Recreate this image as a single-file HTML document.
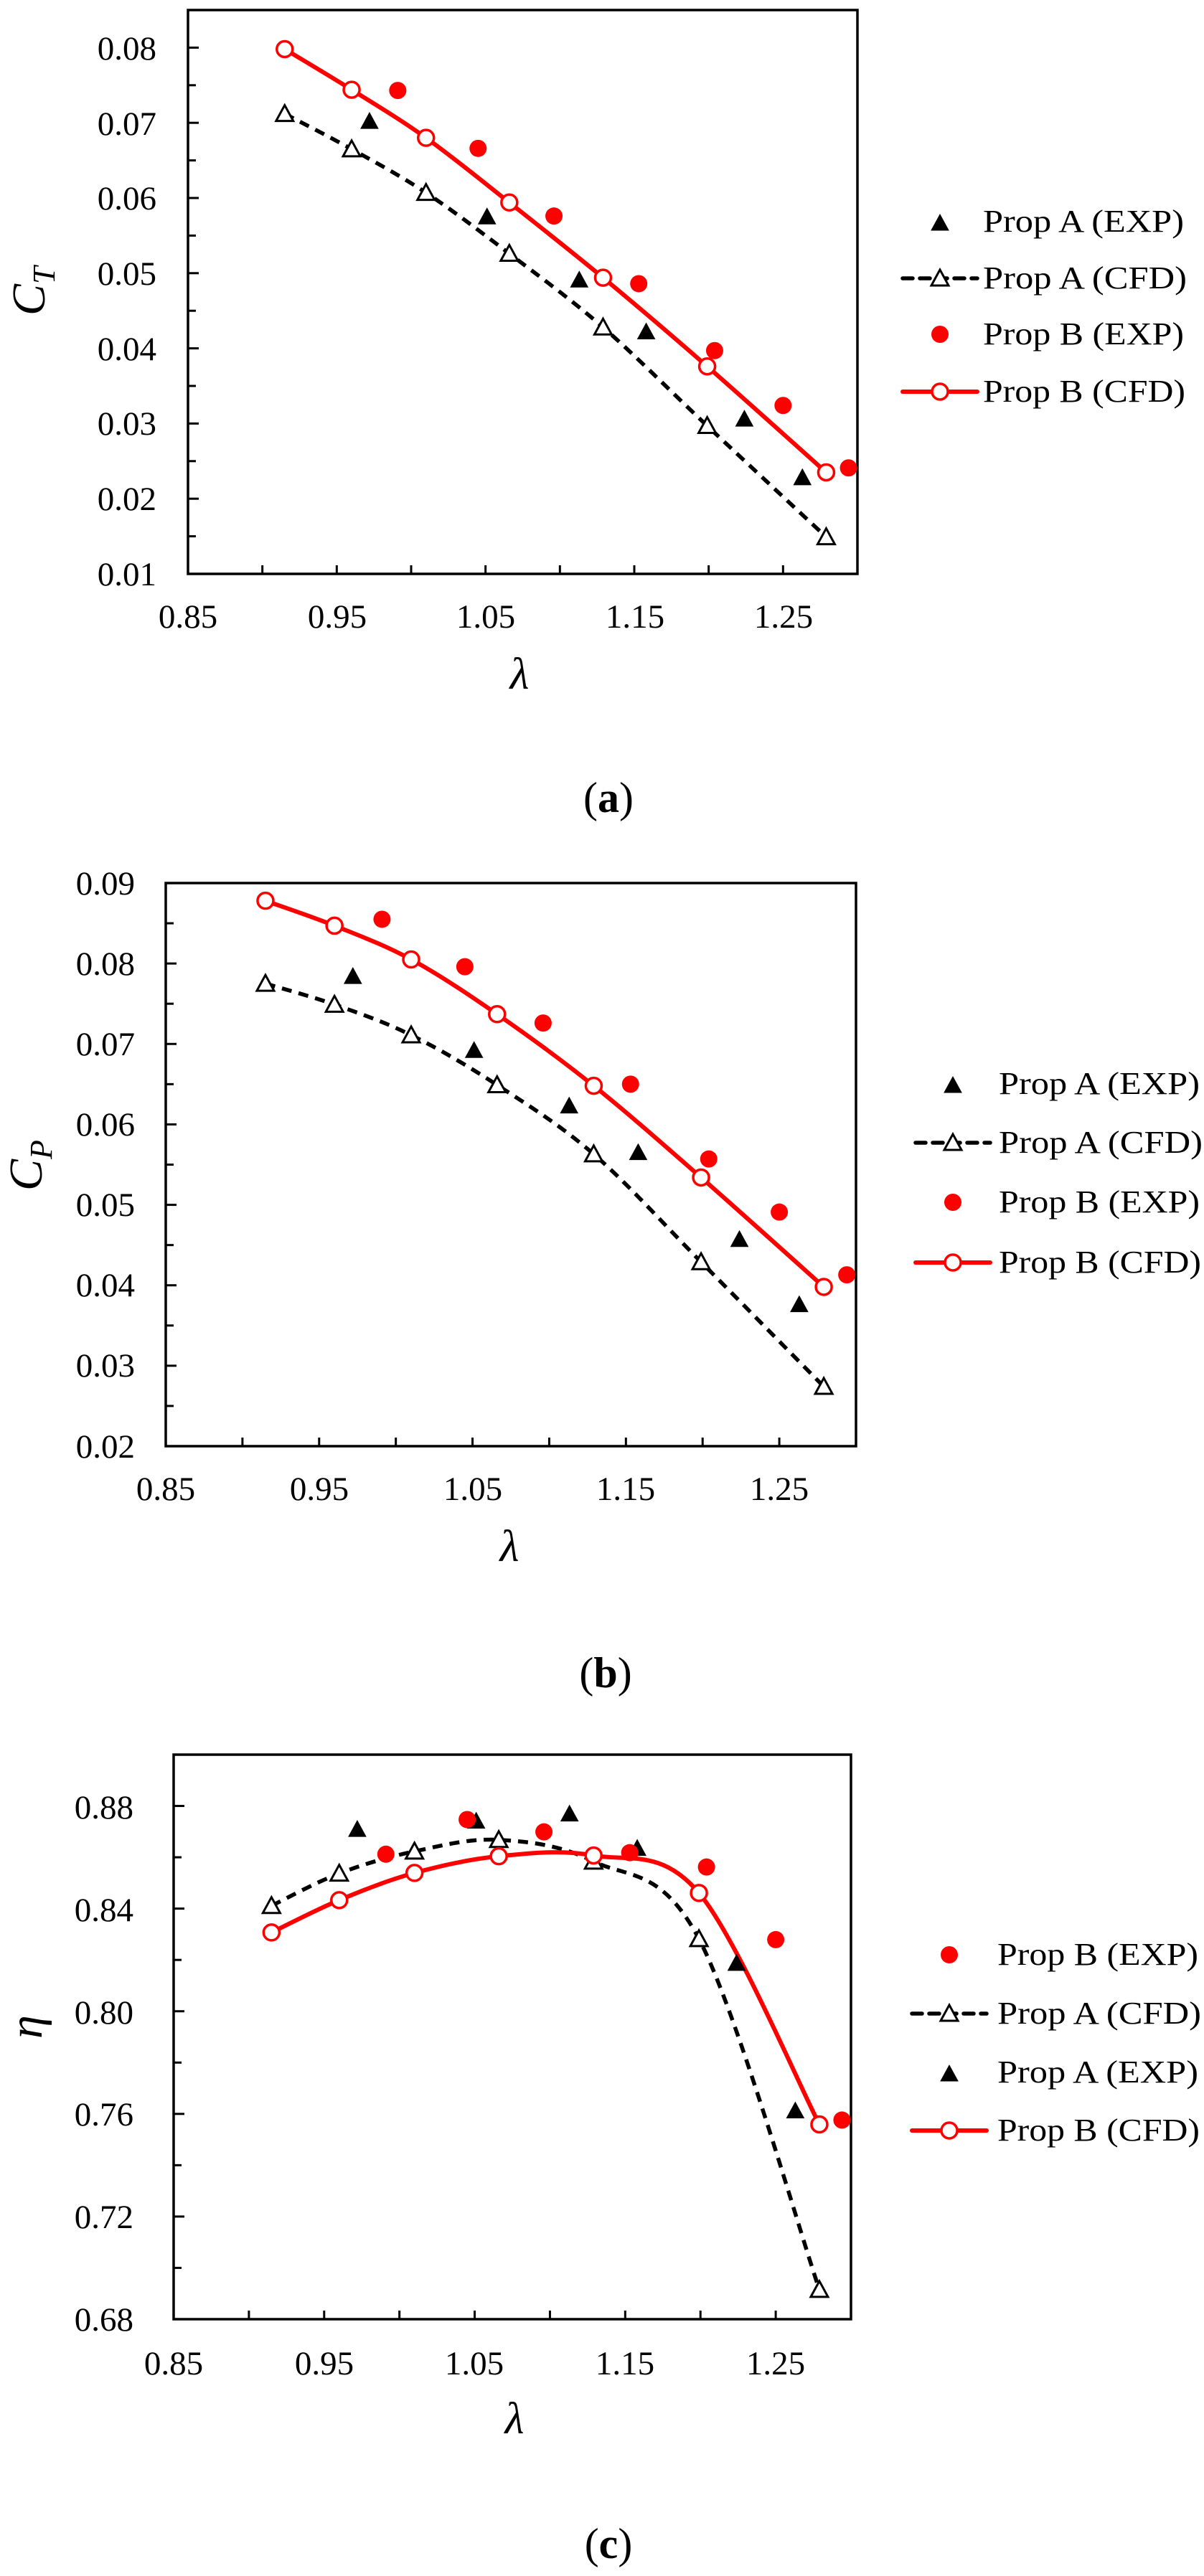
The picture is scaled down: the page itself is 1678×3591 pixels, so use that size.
<!DOCTYPE html>
<html><head><meta charset="utf-8"><style>
html,body{margin:0;padding:0;background:#fff;}
svg{display:block;}
svg text{font-family:"Liberation Serif","Times New Roman",Times,serif;fill:#000;}
</style></head><body>
<svg id="s" width="1678" height="3591" viewBox="0 0 1678 3591" xmlns="http://www.w3.org/2000/svg" font-family="Liberation Serif, Times New Roman, serif">
<rect width="1678" height="3591" fill="#fff"/>
<g id="plots"></g>

<!-- Plot (a) text -->
<g font-size="47" text-anchor="end">
<text x="218" y="83">0.08</text><text x="218" y="188">0.07</text><text x="218" y="292">0.06</text><text x="218" y="397">0.05</text><text x="218" y="502">0.04</text><text x="218" y="606">0.03</text><text x="218" y="711">0.02</text><text x="218" y="816">0.01</text>
</g>
<g font-size="47" text-anchor="middle">
<text x="262" y="875">0.85</text><text x="470" y="875">0.95</text><text x="677" y="875">1.05</text><text x="885" y="875">1.15</text><text x="1092" y="875">1.25</text>
</g>
<text x="724" y="960" font-size="62" font-style="italic" text-anchor="middle">λ</text>
<text transform="translate(62,440) rotate(-90)" font-size="66" font-style="italic">C<tspan font-size="44" dy="14">T</tspan></text>
<g font-size="44">
<text x="1370" y="323" textLength="280" lengthAdjust="spacingAndGlyphs">Prop A (EXP)</text>
<text x="1370" y="402" textLength="284" lengthAdjust="spacingAndGlyphs">Prop A (CFD)</text>
<text x="1370" y="480" textLength="280" lengthAdjust="spacingAndGlyphs">Prop B (EXP)</text>
<text x="1370" y="560" textLength="282" lengthAdjust="spacingAndGlyphs">Prop B (CFD)</text>
</g>
<text x="848" y="1132" font-size="60" text-anchor="middle">(<tspan font-weight="bold">a</tspan>)</text>

<!-- Plot (b) text -->
<g font-size="47" text-anchor="end">
<text x="188" y="1247">0.09</text><text x="188" y="1359">0.08</text><text x="188" y="1471">0.07</text><text x="188" y="1583">0.06</text><text x="188" y="1695">0.05</text><text x="188" y="1807">0.04</text><text x="188" y="1919">0.03</text><text x="188" y="2032">0.02</text>
</g>
<g font-size="47" text-anchor="middle">
<text x="231" y="2091">0.85</text><text x="445" y="2091">0.95</text><text x="659" y="2091">1.05</text><text x="872" y="2091">1.15</text><text x="1086" y="2091">1.25</text>
</g>
<text x="710" y="2176" font-size="62" font-style="italic" text-anchor="middle">λ</text>
<text transform="translate(58,1660) rotate(-90)" font-size="66" font-style="italic">C<tspan font-size="44" dy="14">P</tspan></text>
<g font-size="44">
<text x="1392" y="1525" textLength="280" lengthAdjust="spacingAndGlyphs">Prop A (EXP)</text>
<text x="1392" y="1607" textLength="284" lengthAdjust="spacingAndGlyphs">Prop A (CFD)</text>
<text x="1392" y="1690" textLength="280" lengthAdjust="spacingAndGlyphs">Prop B (EXP)</text>
<text x="1392" y="1774" textLength="282" lengthAdjust="spacingAndGlyphs">Prop B (CFD)</text>
</g>
<text x="844" y="2352" font-size="60" text-anchor="middle">(<tspan font-weight="bold">b</tspan>)</text>

<!-- Plot (c) text -->
<g font-size="47" text-anchor="end">
<text x="186" y="2535">0.88</text><text x="186" y="2678">0.84</text><text x="186" y="2821">0.80</text><text x="186" y="2963">0.76</text><text x="186" y="3106">0.72</text><text x="186" y="3249">0.68</text>
</g>
<g font-size="47" text-anchor="middle">
<text x="242" y="3310">0.85</text><text x="452" y="3310">0.95</text><text x="661" y="3310">1.05</text><text x="871" y="3310">1.15</text><text x="1081" y="3310">1.25</text>
</g>
<text x="717" y="3392" font-size="62" font-style="italic" text-anchor="middle">λ</text>
<text transform="translate(58,2842) rotate(-90)" font-size="66" font-style="italic">η</text>
<g font-size="44">
<text x="1390" y="2739" textLength="280" lengthAdjust="spacingAndGlyphs">Prop B (EXP)</text>
<text x="1390" y="2821" textLength="284" lengthAdjust="spacingAndGlyphs">Prop A (CFD)</text>
<text x="1390" y="2903" textLength="280" lengthAdjust="spacingAndGlyphs">Prop A (EXP)</text>
<text x="1390" y="2984" textLength="282" lengthAdjust="spacingAndGlyphs">Prop B (CFD)</text>
</g>
<text x="848" y="3566" font-size="60" text-anchor="middle">(<tspan font-weight="bold">c</tspan>)</text>
</svg>
<script>
(function(){
var NS="http://www.w3.org/2000/svg",G=document.getElementById("plots");
function el(n,a){var e=document.createElementNS(NS,n);for(var k in a)e.setAttribute(k,a[k]);G.appendChild(e);return e;}
function path(pts){
  var d="M"+pts[0][0]+","+pts[0][1];
  for(var i=0;i<pts.length-1;i++){
    var p0=pts[i-1]||pts[i],p1=pts[i],p2=pts[i+1],p3=pts[i+2]||pts[i+1];
    var c1=[p1[0]+(p2[0]-p0[0])/6,p1[1]+(p2[1]-p0[1])/6],c2=[p2[0]-(p3[0]-p1[0])/6,p2[1]-(p3[1]-p1[1])/6];
    d+=" C"+c1+" "+c2+" "+p2;
  }return d;}
function tri(x,y,fill){el("polygon",{points:(x-12)+","+(y+10)+" "+(x+12)+","+(y+10)+" "+x+","+(y-12),fill:fill?"#000":"#fff",stroke:"#000","stroke-width":fill?1:3,"stroke-linejoin":"miter"});}
function circ(x,y,fill){el("circle",{cx:x,cy:y,r:fill?12:11,fill:fill?"#f00":"#fff",stroke:"#f00","stroke-width":fill?0:3.5});}
var L=[0.915,0.960,1.010,1.066,1.129,1.199,1.279];
var LA=[0.972,1.051,1.113,1.158,1.224,1.263];
var LB=[0.991,1.045,1.096,1.153,1.204,1.250,1.294];
function plot(P){
  var X=function(l){return P.x0+(l-0.85)*(P.x1-P.x0)/0.45;},Y=function(v){return P.y1-(v-P.vmin)*(P.y1-P.y0)/(P.vmax-P.vmin);};
  for(var v=P.vmin;v<=P.vmax+1e-9;v+=P.minor){var y=Y(v),maj=Math.abs(Math.round((v-P.vmin)/P.major)*P.major-(v-P.vmin))<1e-9;el("line",{x1:P.x0,x2:P.x0+(maj?15:11),y1:y,y2:y,stroke:"#000","stroke-width":3});}
  for(var l=0.9;l<1.3;l+=0.05){var x=X(l);el("line",{x1:x,x2:x,y1:P.y1,y2:P.y1-12,stroke:"#000","stroke-width":3});}
  el("rect",{x:P.x0,y:P.y0,width:P.x1-P.x0,height:P.y1-P.y0,fill:"none",stroke:"#000","stroke-width":3.5});
  var ac=L.map(function(l,i){return [X(l),Y(P.aC[i])];}),bc=L.map(function(l,i){return [X(l),Y(P.bC[i])];});
  el("path",{d:path(ac),fill:"none",stroke:"#000","stroke-width":5.5,"stroke-dasharray":"14 10"});
  el("path",{d:path(bc),fill:"none",stroke:"#f00","stroke-width":6});
  ac.forEach(function(p){tri(p[0],p[1],false);});
  LA.forEach(function(l,i){tri(X(l),Y(P.aE[i]),true);});
  LB.forEach(function(l,i){circ(X(l),Y(P.bE[i]),true);});
  bc.forEach(function(p){circ(p[0],p[1],false);});
  var lx=P.lx;
  P.order.forEach(function(k,i){var y=P.ly[i];
    if(k=="aE")tri(lx,y+2,true);
    if(k=="bE")circ(lx,y,true);
    if(k=="aC"){el("line",{x1:lx-52,x2:lx+52,y1:y,y2:y,stroke:"#000","stroke-width":5.5,"stroke-dasharray":"14 10","stroke-linecap":"round"});tri(lx,y,false);}
    if(k=="bC"){el("line",{x1:lx-52,x2:lx+52,y1:y,y2:y,stroke:"#f00","stroke-width":6,"stroke-linecap":"round"});circ(lx,y,false);}
  });
}
plot({x0:262,x1:1195,y0:14,y1:800,vmin:0.01,vmax:0.085,major:0.01,minor:0.005,
  bC:[0.0798,0.0744,0.0680,0.0594,0.0494,0.0376,0.0235],aC:[0.0712,0.0665,0.0607,0.0526,0.0428,0.0297,0.0149],
  aE:[0.0702,0.0575,0.0491,0.0422,0.0306,0.0228],bE:[0.0743,0.0666,0.0576,0.0486,0.0397,0.0324,0.0241],
  lx:1310,ly:[309,388,466,546],order:["aE","aC","bE","bC"]});
plot({x0:231,x1:1193,y0:1231,y1:2016,vmin:0.02,vmax:0.09,major:0.01,minor:0.005,
  bC:[0.0878,0.0847,0.0805,0.0737,0.0648,0.0534,0.0398],aC:[0.0775,0.0749,0.0711,0.0649,0.0563,0.0429,0.0274],
  aE:[0.0784,0.0692,0.0623,0.0565,0.0457,0.0376],bE:[0.0855,0.0796,0.0726,0.0650,0.0557,0.0491,0.0413],
  lx:1328,ly:[1511,1593,1676,1760],order:["aE","aC","bE","bC"]});
plot({x0:242,x1:1186,y0:2446,y1:3233,vmin:0.68,vmax:0.90,major:0.04,minor:0.02,
  bC:[0.8307,0.8433,0.8539,0.8604,0.8607,0.8461,0.7559],aC:[0.8411,0.8537,0.8623,0.8668,0.8584,0.8282,0.6915],
  aE:[0.8709,0.8741,0.8769,0.8635,0.8187,0.7612],bE:[0.8612,0.8747,0.8699,0.8618,0.8562,0.8279,0.7576],
  lx:1323,ly:[2725,2807,2889,2970],order:["bE","aC","aE","bC"]});
})();
</script>
</body></html>
